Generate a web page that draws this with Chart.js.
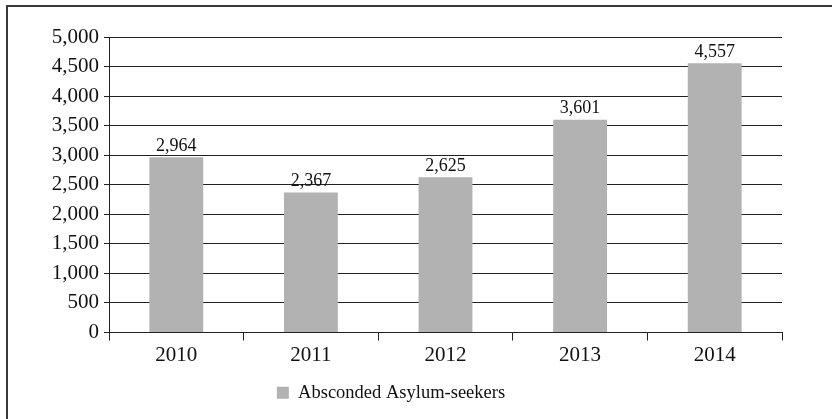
<!DOCTYPE html>
<html>
<head>
<meta charset="utf-8">
<script src="https://cdn.jsdelivr.net/npm/chart.js@4/dist/chart.umd.min.js"></script>
<style>
  body { margin: 0; background: #fff; }
  #frame { position: absolute; left: 6px; top: 5px; width: 900px; height: 500px; border: 2px solid #3a3a3a; }
  #wrap { position: absolute; left: 0; top: 0; width: 832px; height: 419px; }
</style>
</head>
<body>
<div id="frame"></div>
<div id="wrap"><canvas id="myChart" width="832" height="419"></canvas></div>
<script>
const years = ['2010', '2011', '2012', '2013', '2014'];
const absconded = [2964, 2367, 2625, 3601, 4557];
const seriesName = 'Absconded Asylum-seekers';
const yMax = 5000;
const yStep = 500;

const ctx = document.getElementById('myChart');
const serif = "'Liberation Serif', 'Times New Roman', serif";

// writes the value above each bar
const barValues = {
  id: 'barValues',
  afterDatasetsDraw(chart) {
    const c = chart.ctx;
    const meta = chart.getDatasetMeta(0);
    c.save();
    c.font = '18px ' + serif;
    c.fillStyle = '#111';
    c.textAlign = 'center';
    c.textBaseline = 'bottom';
    meta.data.forEach((bar, i) => {
      c.fillText(absconded[i].toLocaleString('en-US'), bar.x, bar.y - 2);
    });
    c.restore();
  }
};

new Chart(ctx, {
  type: 'bar',
  data: {
    labels: years,
    datasets: [{
      label: seriesName,
      data: absconded,
      backgroundColor: '#b2b2b2',
      borderWidth: 0,
      categoryPercentage: 0.8,
      barPercentage: 0.5
    }]
  },
  options: {
    animation: false,
    responsive: false,
    layout: { padding: { top: 37, right: 50, bottom: 7, left: 0 } },
    plugins: {
      tooltip: { enabled: false },
      legend: {
        position: 'bottom',
        labels: {
          color: '#111',
          font: { family: serif, size: 18.5 },
          boxWidth: 12,
          boxHeight: 12,
          padding: 10
        }
      }
    },
    scales: {
      y: {
        min: 0,
        max: yMax,
        afterFit: s => { s.width = 109; },
        ticks: {
          stepSize: yStep,
          padding: 5,
          color: '#111',
          font: { family: serif, size: 21 },
          callback: v => v.toLocaleString('en-US')
        },
        grid: { color: '#222', lineWidth: 1, tickLength: 5 },
        border: { color: '#222', width: 1 }
      },
      x: {
        afterFit: s => { s.height = 41; },
        ticks: {
          padding: 2,
          color: '#111',
          font: { family: serif, size: 21 }
        },
        grid: { drawOnChartArea: false, color: '#222', tickLength: 8 },
        border: { color: '#222', width: 1 }
      }
    }
  },
  plugins: [barValues]
});
</script>
</body>
</html>
